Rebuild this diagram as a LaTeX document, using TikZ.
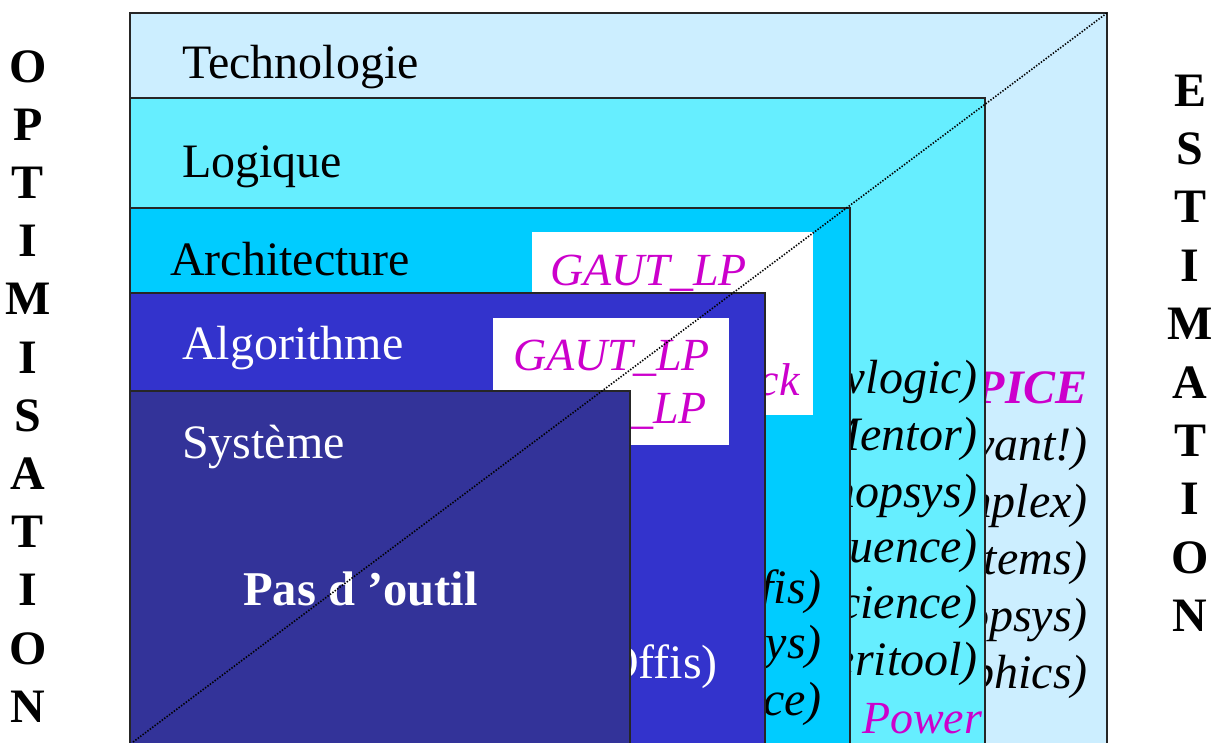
\documentclass[tikz,border=0pt]{standalone}
\usepackage{fontspec}
\setmainfont{Liberation Serif}
\definecolor{techC}{HTML}{CCEEFF}
\definecolor{logC}{HTML}{66EEFF}
\definecolor{archC}{HTML}{00CCFF}
\definecolor{algoC}{HTML}{3333CC}
\definecolor{sysC}{HTML}{333399}
\definecolor{mag}{HTML}{CC00CC}
\begin{document}
\begin{tikzpicture}[x=1pt,y=-1pt,
  frame/.style={draw=black!85, line width=1.1pt},
  big/.style={font=\fontsize{48}{58}\selectfont, inner sep=0pt},
  lbl/.style={big, anchor=base west},
  tool/.style={big, anchor=base east, font=\fontsize{48}{58}\selectfont\itshape},
  gaut/.style={inner sep=0pt, anchor=base west, text=mag, font=\fontsize{46}{55}\selectfont\itshape},
  vletter/.style={big, anchor=base, font=\fontsize{48}{58}\selectfont\bfseries},
  diag/.style={line width=1.6pt, black, dash pattern=on 1.4pt off 1.6pt}]
\useasboundingbox (0,0) rectangle (1221,742);
\fill[white] (0,0) rectangle (1221,742);
\begin{scope}
\clip (0,0) rectangle (1221,742);
% Technologie layer
\filldraw[frame, fill=techC] (130,13) rectangle (1107,760);
\coordinate (diagTop) at (1107,13);
\node[lbl] (tTech) at (182,78) {Technologie};
\node[tool, text=mag, font=\fontsize{48}{58}\selectfont\bfseries\itshape] (tSpice) at (1088,403) {PICE};
\node[tool] (t1) at (1088,460) {vant!)};
\node[tool] (t2) at (1088,517) {mplex)};
\node[tool] (t3) at (1088,574) {tems)};
\node[tool] (t4) at (1088,631) {opsys)};
\node[tool] (t5) at (1088,688) {phics)};
% Logique layer
\filldraw[frame, fill=logC] (130,98) rectangle (985,760);
\node[lbl] (tLog) at (182,177) {Logique};
\node[tool] (l1) at (978,393) {wlogic)};
\node[tool] (l2) at (978,450) {Mentor)};
\node[tool] (l3) at (978,507) {nopsys)};
\node[tool] (l4) at (978,562) {quence)};
\node[tool] (l5) at (978,618) {cience)};
\node[tool] (l6) at (978,675) {eritool)};
\node[gaut] (lPow) at (862,733) {Power};
% Architecture layer
\filldraw[frame, fill=archC] (130,208) rectangle (850,760);
\node[lbl] (tArch) at (170,275) {Architecture};
\fill[white] (532,232) rectangle (813,415);
\node[gaut] (aG) at (550,285) {GAUT\_LP};
\node[gaut, anchor=base east] (aCk) at (800,395) {ck};
\node[tool] (a1) at (822,603) {fis)};
\node[tool] (a2) at (822,658) {ys)};
\node[tool] (a3) at (822,715) {ce)};
% Algorithme layer
\filldraw[frame, fill=algoC] (130,293) rectangle (765,760);
\node[lbl, text=white] (tAlgo) at (182,359) {Algorithme};
\fill[white] (493,318) rectangle (729,445);
\node[gaut] (gG) at (513,370) {GAUT\_LP};
\node[gaut, anchor=base east] (gLp) at (707,423) {\_LP};
\node[big, anchor=base east, text=white] (gOff) at (718,678) {Offis)};
% Systeme layer
\filldraw[frame, fill=sysC] (130,391) rectangle (630,760);
\node[lbl, text=white] (tSys) at (182,458) {Système};
\node[lbl, text=white, font=\fontsize{48.5}{58}\selectfont\bfseries] (tNone) at (243,605) {Pas d ’outil};
% optimisation / estimation split
\coordinate (diagBot) at (133,742);
\draw[diag] (diagBot) -- (diagTop);
\end{scope}
% vertical words
\foreach \l [count=\i] in {O,P,T,I,M,I,S,A,T,I,O,N}
  \node[vletter] (opt\i) at (28,{82+58.2*(\i-1)}) {\l};
\foreach \l [count=\i] in {E,S,T,I,M,A,T,I,O,N}
  \node[vletter] (est\i) at (1190,{106+58.4*(\i-1)}) {\l};
\end{tikzpicture}
\end{document}
